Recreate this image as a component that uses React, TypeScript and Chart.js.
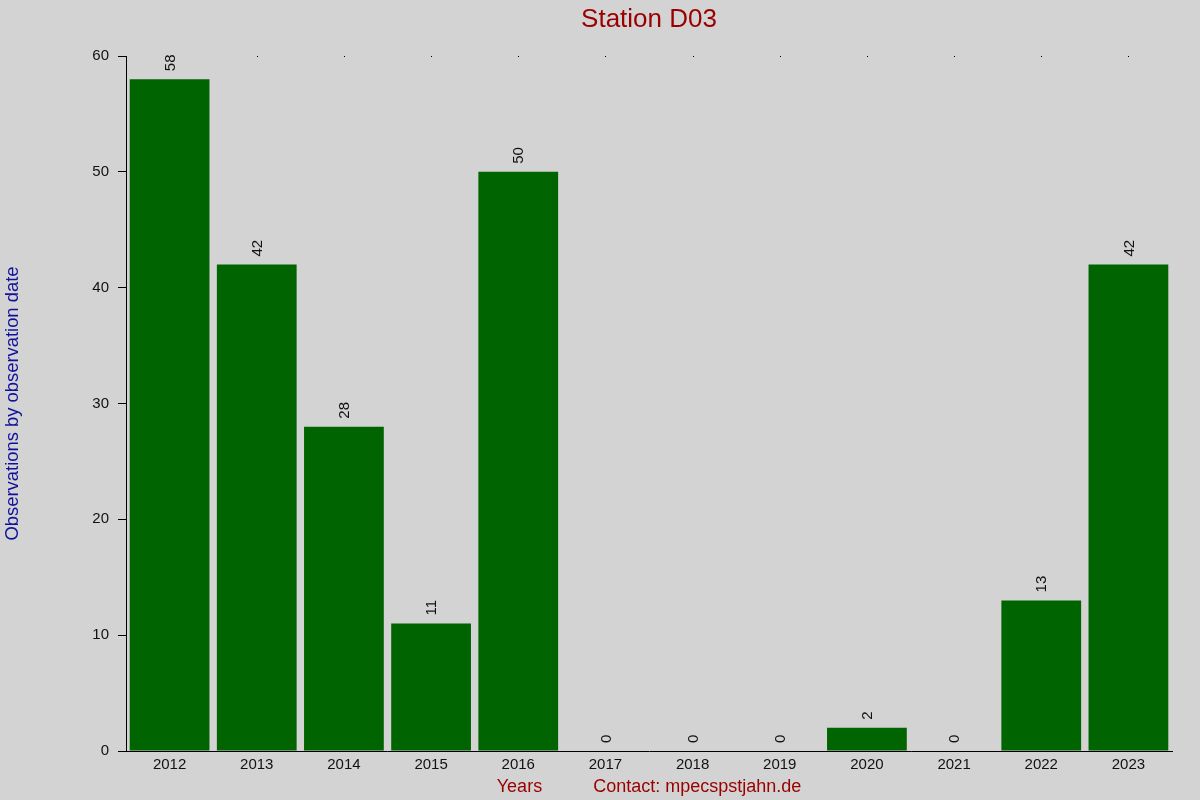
import React, { useEffect, useRef } from 'react';
import { Chart, registerables } from 'chart.js';

Chart.register(...registerables);

// Station D03 - observations per year
const years = ['2012', '2013', '2014', '2015', '2016', '2017', '2018', '2019', '2020', '2021', '2022', '2023'];
const counts = [58, 42, 28, 11, 50, 0, 0, 0, 2, 0, 13, 42];
const yMin = 0;
const yMax = 60;
const yStep = 10;

const chartTitle = 'Station D03';
const yTitle = 'Observations by observation date';
const xTitle = 'Years';
const contactText = 'Contact: mpecspstjahn.de';

const FONT = '"Liberation Sans", Arial, sans-serif';

const decorPlugin = {
    id: 'decor',
    beforeDraw(chart: any) {
        const { ctx, width, height } = chart;
        ctx.save();
        ctx.fillStyle = '#d3d3d3';
        ctx.fillRect(0, 0, width, height);
        ctx.restore();
    },
    afterDatasetsDraw(chart: any) {
        const { ctx } = chart;
        const meta = chart.getDatasetMeta(0);
        ctx.save();
        ctx.fillStyle = '#111';
        ctx.font = '15px ' + FONT;
        ctx.textAlign = 'left';
        ctx.textBaseline = 'middle';
        meta.data.forEach((bar: any, i: number) => {
            ctx.save();
            ctx.translate(bar.x + 1, bar.y - 8);
            ctx.rotate(-Math.PI / 2);
            ctx.fillText(String(counts[i]), 0, 0);
            ctx.restore();
        });
        ctx.restore();
    },
    afterDraw(chart: any) {
        const { ctx, chartArea } = chart;
        const xScale = chart.scales.x;
        ctx.save();
        // small marks along the top edge
        ctx.fillStyle = '#000';
        years.forEach((_, i) => {
            ctx.fillRect(Math.round(xScale.getPixelForValue(i)), chartArea.top, 1, 1);
        });

        const cx = (chartArea.left + chartArea.right) / 2;

        ctx.fillStyle = '#990000';
        ctx.font = '26px ' + FONT;
        ctx.textAlign = 'center';
        ctx.textBaseline = 'alphabetic';
        ctx.fillText(chartTitle, cx, 27);

        // x title + contact, centered together
        ctx.font = '18px ' + FONT;
        const gap = 51;
        const w1 = ctx.measureText(xTitle).width;
        const w2 = ctx.measureText(contactText).width;
        const start = cx - (w1 + gap + w2) / 2;
        ctx.textAlign = 'left';
        ctx.fillText(xTitle, start, 792);
        ctx.fillText(contactText, start + w1 + gap, 792);

        // y title
        ctx.fillStyle = '#10109c';
        ctx.translate(18, (chartArea.top + chartArea.bottom) / 2);
        ctx.rotate(-Math.PI / 2);
        ctx.textAlign = 'center';
        ctx.font = '18.4px ' + FONT;
        ctx.fillText(yTitle, 0, 0);
        ctx.restore();
    },
};

const App = () => {
    const chartRef = useRef<HTMLCanvasElement>(null);

    useEffect(() => {
        const chartInstance = new Chart(chartRef.current!, {
            type: 'bar',
            data: {
                labels: years,
                datasets: [{
                    label: 'Observations',
                    data: counts,
                    backgroundColor: '#006400',
                    borderWidth: 0,
                    barPercentage: 0.915,
                    categoryPercentage: 1,
                }],
            },
            options: {
                animation: false,
                responsive: true,
                maintainAspectRatio: false,
                events: [],
                layout: { padding: { left: 0, right: 28, top: 56, bottom: 0 } },
                plugins: {
                    legend: { display: false },
                    tooltip: { enabled: false },
                    title: { display: false },
                },
                scales: {
                    x: {
                        grid: { display: false, drawTicks: false },
                        border: { display: true, color: '#000', width: 1 },
                        ticks: {
                            color: '#111',
                            font: { family: FONT, size: 15 },
                            padding: 5,
                            maxRotation: 0,
                            autoSkip: false,
                        },
                        afterFit: (scale: any) => { scale.height = 49; },
                    },
                    y: {
                        min: yMin,
                        max: yMax,
                        grid: { drawOnChartArea: false, drawTicks: true, tickLength: 8, color: '#000' },
                        border: { display: true, color: '#000', width: 1 },
                        ticks: {
                            stepSize: yStep,
                            color: '#111',
                            font: { family: FONT, size: 15 },
                            padding: 9,
                        },
                        afterFit: (scale: any) => { scale.width = 126; },
                    },
                },
            },
            plugins: [decorPlugin],
        });

        return () => {
            chartInstance.destroy();
        };
    }, []);

    return (
        <div style={{ position: 'absolute', left: 0, top: 0, width: 1200, height: 800 }}>
            <canvas ref={chartRef} />
        </div>
    );
};

export default App;
